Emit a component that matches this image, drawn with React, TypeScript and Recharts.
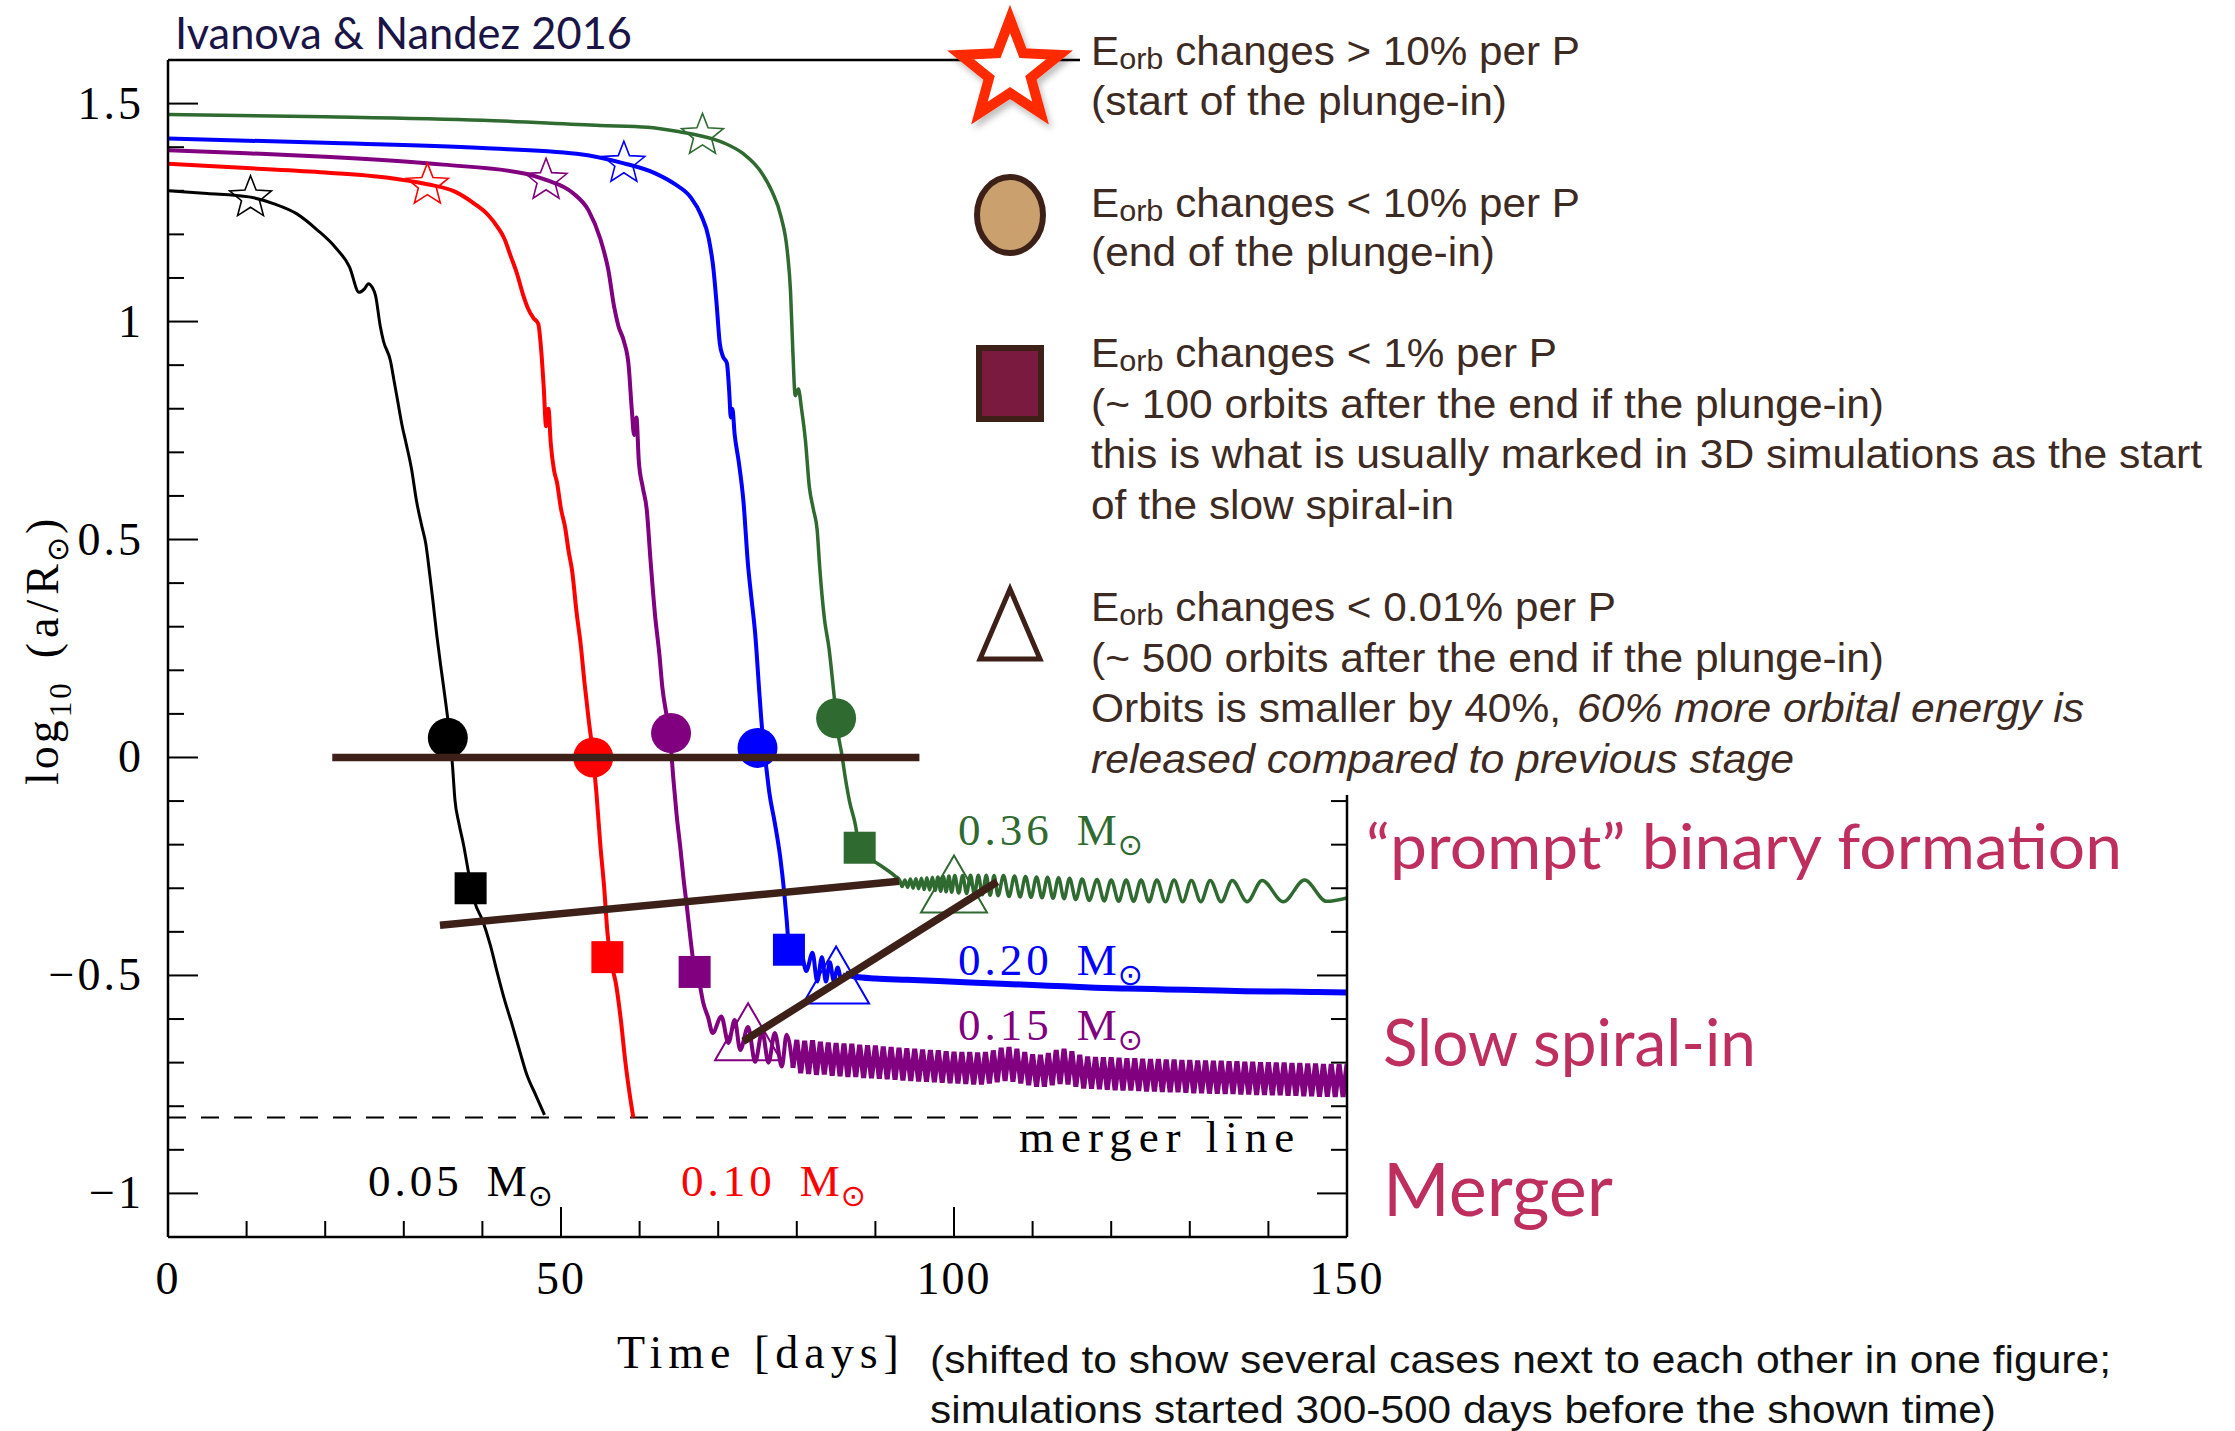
import React from "react";
import { ComposedChart, Line, Scatter, XAxis, YAxis, ReferenceLine } from "recharts";

type Pt = [number, number];
type Mark = { x: number; y: number; s: string };

const SERIF = '"Liberation Serif", "Times New Roman", serif';
const SANS = '"Liberation Sans", Arial, sans-serif';
const GILL = 'Lato, "Open Sans", sans-serif';
const BROWN = "#3d2a22";
const CRIMSON = "#bf2f5e";
const ANNOT = "#3d2119";

const COLORS: Record<string, string> = {
  m05: "#000000",
  m10: "#ff0000",
  m15: "#800080",
  m20: "#0000ff",
  m36: "#2f6a31",
};

const xTicks = [0, 10, 20, 30, 40, 50, 60, 70, 80, 90, 100, 110, 120, 130, 140, 150];
const yTicks = [
  -1, -0.9, -0.8, -0.7, -0.6, -0.5, -0.4, -0.3, -0.2, -0.1, 0, 0.1, 0.2, 0.3, 0.4,
  0.5, 0.6, 0.7, 0.8, 0.9, 1, 1.1, 1.2, 1.3, 1.4, 1.5,
];

// 0.05 Msun companion
const curve005: Pt[] = [
  [0, 1.3], [5, 1.294], [10.3, 1.286], [13.5, 1.27], [16.4, 1.247], [19, 1.21],
  [21.3, 1.17], [23.1, 1.125], [24.3, 1.067], [25.0, 1.075], [25.5, 1.087],
  [26.0, 1.078], [26.4, 1.06], [27.0, 0.99], [27.4, 0.956], [28.3, 0.91],
  [28.8, 0.86], [29.2, 0.82], [29.8, 0.76], [30.3, 0.72], [31.0, 0.66],
  [31.6, 0.59], [32.3, 0.53], [32.8, 0.49], [33.3, 0.42], [33.7, 0.36],
  [34.2, 0.28], [34.7, 0.21], [35.3, 0.13], [35.9, 0.04], [36.2, -0.02],
  [36.5, -0.096], [37.0, -0.15], [37.6, -0.2], [38.3, -0.27], [39.0, -0.33],
  [40.0, -0.373], [41.0, -0.43], [41.9, -0.494], [42.8, -0.555], [43.8, -0.614],
  [44.7, -0.67], [45.6, -0.725], [46.8, -0.775], [47.9, -0.82],
];

// 0.10 Msun
const curve010: Pt[] = [
  [0, 1.362], [10, 1.352], [20, 1.342], [28, 1.33], [33, 1.315], [36.5, 1.298],
  [39, 1.27], [40.7, 1.245], [42.0, 1.215], [42.8, 1.19], [43.6, 1.15],
  [44.4, 1.11], [45.2, 1.06], [45.8, 1.03], [46.5, 1.008], [47.1, 0.995],
  [47.5, 0.93], [47.8, 0.85], [48.1, 0.76], [48.4, 0.8], [48.7, 0.72],
  [49.1, 0.66], [49.5, 0.63], [50.0, 0.57], [50.5, 0.53], [51.0, 0.47],
  [51.4, 0.43], [52.0, 0.33], [52.5, 0.26], [53.0, 0.17], [53.5, 0.09],
  [54.1, 0.0], [54.5, -0.08], [55.0, -0.2], [55.5, -0.3], [55.9, -0.4],
  [56.4, -0.47], [57.0, -0.52], [57.6, -0.6], [58.2, -0.7], [58.8, -0.78],
  [59.2, -0.826],
];

// 0.15 Msun, plunge and first wobbles
const curve015: Pt[] = [
  [0, 1.393], [10, 1.386], [20, 1.378], [35, 1.36], [45.5, 1.339], [48.1, 1.325],
  [51.5, 1.295], [53.5, 1.255], [55.0, 1.19], [56.0, 1.12], [56.8, 1.03],
  [57.3, 0.99], [58.0, 0.955], [58.6, 0.9], [59.0, 0.8], [59.3, 0.74],
  [59.6, 0.78], [59.9, 0.68], [60.4, 0.62], [60.9, 0.57], [61.4, 0.45],
  [62.0, 0.32], [62.5, 0.24], [62.9, 0.16], [63.4, 0.1], [63.9, 0.04],
  [64.3, -0.05], [64.7, -0.13], [65.2, -0.21], [65.6, -0.28], [66.0, -0.34],
  [66.5, -0.42], [67.0, -0.49], [67.7, -0.526], [68.1, -0.563], [68.7, -0.595],
  [69.3, -0.632], [70.4, -0.594], [71.3, -0.655], [72.1, -0.602], [72.8, -0.671],
  [73.8, -0.618], [74.7, -0.698], [75.6, -0.629], [76.4, -0.7], [77.2, -0.632],
  [78.1, -0.709], [78.7, -0.636], [79.5, -0.712],
];

// 0.15 Msun, dense orbital oscillation (slow spiral-in)
const band015: Pt[] = [
  [79.5, -0.712], [80.0, -0.648], [80.5, -0.724], [81.0, -0.65], [81.5, -0.726],
  [82.0, -0.649], [82.5, -0.728], [83.0, -0.652], [83.5, -0.727], [84.0, -0.654],
  [84.5, -0.73], [85.0, -0.655], [85.5, -0.731], [86.0, -0.656], [86.5, -0.733],
  [87.0, -0.657], [87.5, -0.733], [88.0, -0.659], [88.5, -0.735], [89.0, -0.66],
  [89.5, -0.736], [90.0, -0.661], [90.5, -0.737], [91.0, -0.663], [91.5, -0.738],
  [92.0, -0.664], [92.5, -0.739], [93.0, -0.666], [93.5, -0.741], [94.0, -0.667],
  [94.5, -0.742], [95.0, -0.668], [95.5, -0.743], [96.0, -0.67], [96.5, -0.744],
  [97.0, -0.671], [97.5, -0.745], [98.0, -0.672], [98.5, -0.746], [99.0, -0.674],
  [99.5, -0.747], [100.0, -0.675], [100.5, -0.748], [101.0, -0.676], [101.5, -0.749],
  [102.0, -0.676], [102.5, -0.75], [103.0, -0.677], [103.5, -0.75], [104.0, -0.676],
  [104.5, -0.748], [105.0, -0.672], [105.5, -0.745], [106.0, -0.666], [106.5, -0.742],
  [107.0, -0.664], [107.5, -0.744], [108.0, -0.668], [108.5, -0.748], [109.0, -0.676],
  [109.5, -0.752], [110.0, -0.681], [110.5, -0.755], [111.0, -0.682], [111.5, -0.755],
  [112.0, -0.678], [112.5, -0.752], [113.0, -0.671], [113.5, -0.749], [114.0, -0.668],
  [114.5, -0.75], [115.0, -0.674], [115.5, -0.755], [116.0, -0.682], [116.5, -0.759],
  [117.0, -0.686], [117.5, -0.76], [118.0, -0.687], [118.5, -0.761], [119.0, -0.688],
  [119.5, -0.762], [120.0, -0.688], [120.5, -0.763], [121.0, -0.689], [121.5, -0.764],
  [122.0, -0.69], [122.5, -0.764], [123.0, -0.69], [123.5, -0.765], [124.0, -0.691],
  [124.5, -0.766], [125.0, -0.692], [125.5, -0.766], [126.0, -0.692], [126.5, -0.767],
  [127.0, -0.693], [127.5, -0.768], [128.0, -0.693], [128.5, -0.768], [129.0, -0.694],
  [129.5, -0.769], [130.0, -0.694], [130.5, -0.77], [131.0, -0.695], [131.5, -0.77],
  [132.0, -0.695], [132.5, -0.771], [133.0, -0.696], [133.5, -0.771], [134.0, -0.696],
  [134.5, -0.772], [135.0, -0.697], [135.5, -0.772], [136.0, -0.697], [136.5, -0.773],
  [137.0, -0.698], [137.5, -0.773], [138.0, -0.698], [138.5, -0.774], [139.0, -0.699],
  [139.5, -0.774], [140.0, -0.699], [140.5, -0.775], [141.0, -0.7], [141.5, -0.775],
  [142.0, -0.7], [142.5, -0.776], [143.0, -0.701], [143.5, -0.776], [144.0, -0.701],
  [144.5, -0.777], [145.0, -0.702], [145.5, -0.777], [146.0, -0.702], [146.5, -0.778],
  [147.0, -0.703], [147.5, -0.778], [148.0, -0.703], [148.5, -0.779], [149.0, -0.704],
  [149.5, -0.779], [150.0, -0.704],
];

// 0.20 Msun
const curve020: Pt[] = [
  [0, 1.42], [20, 1.41], [40, 1.398], [52, 1.385], [58, 1.363], [62, 1.34],
  [64.5, 1.315], [66.5, 1.285], [67.8, 1.245], [68.8, 1.19], [69.4, 1.12],
  [69.8, 1.04], [70.2, 0.95], [70.6, 0.92], [71.1, 0.905], [71.4, 0.84],
  [71.6, 0.78], [71.8, 0.8], [72.1, 0.74], [72.6, 0.68], [73.2, 0.59],
  [73.8, 0.44], [74.2, 0.37], [74.7, 0.285], [75.3, 0.132], [75.7, 0.04],
  [76.1, -0.02], [76.5, -0.08], [77.2, -0.15], [77.9, -0.23], [78.4, -0.31],
  [78.7, -0.37], [79.0, -0.43], [80.0, -0.445], [80.6, -0.45], [81.2, -0.49],
  [82.0, -0.448], [82.6, -0.514], [83.2, -0.458], [83.7, -0.514], [84.2, -0.47],
  [84.7, -0.512], [85.2, -0.482], [85.7, -0.512], [86.2, -0.495],
];
const tail020: Pt[] = [
  [86.2, -0.495], [87.5, -0.503], [90, -0.507], [94, -0.51], [98, -0.513],
  [102, -0.516], [106, -0.519], [110, -0.522], [114, -0.525], [118, -0.528],
  [122, -0.53], [127, -0.532], [132, -0.534], [137, -0.536], [142, -0.537],
  [146, -0.538], [150, -0.539],
];

// 0.36 Msun
const curve036: Pt[] = [
  [0, 1.475], [20, 1.47], [40, 1.462], [55, 1.45], [61, 1.446], [65.2, 1.435],
  [68, 1.425], [70.7, 1.41], [73.2, 1.385], [75.3, 1.347], [76.8, 1.3],
  [78.0, 1.24], [78.8, 1.16], [79.2, 1.07], [79.5, 0.93], [79.8, 0.83],
  [80.2, 0.845], [80.6, 0.8], [81.1, 0.727], [81.6, 0.62], [82.1, 0.57],
  [82.6, 0.52], [82.9, 0.44], [83.5, 0.32], [84.1, 0.25], [84.7, 0.15],
  [85.2, 0.06], [85.7, 0.01], [86.2, -0.05], [86.7, -0.1], [87.4, -0.15],
  [88.0, -0.207], [89.0, -0.228], [90.0, -0.24], [91.4, -0.257], [92.5, -0.272],
  [93.1, -0.282], [93.4, -0.296], [93.75, -0.281], [94.1, -0.298], [94.45, -0.279],
  [94.8, -0.3], [95.15, -0.278], [95.5, -0.301], [95.85, -0.277], [96.2, -0.303],
  [96.55, -0.276], [96.9, -0.304], [97.25, -0.275], [97.6, -0.305], [97.95, -0.274],
  [98.3, -0.307], [98.65, -0.273], [99.0, -0.308], [99.35, -0.272], [99.7, -0.309],
  [100.1, -0.271], [100.6, -0.311], [101.1, -0.271], [101.6, -0.312], [102.1, -0.27],
  [102.6, -0.314], [103.1, -0.27], [103.6, -0.315], [104.1, -0.27], [104.6, -0.316],
  [105.1, -0.271], [105.6, -0.317], [106.3, -0.271], [107.0, -0.319], [107.7, -0.272],
  [108.4, -0.32], [109.1, -0.273], [109.8, -0.321], [110.5, -0.274], [111.2, -0.322],
  [111.9, -0.275], [112.6, -0.323], [113.3, -0.276], [114.0, -0.324], [114.7, -0.277],
  [115.5, -0.326], [116.3, -0.279], [117.2, -0.328], [118.2, -0.28], [119.1, -0.329],
  [120.0, -0.281], [120.95, -0.33], [121.9, -0.281], [122.85, -0.33], [123.8, -0.281],
  [124.8, -0.331], [125.8, -0.281], [126.9, -0.331], [128.0, -0.281], [129.1, -0.331],
  [130.2, -0.282], [131.4, -0.331], [132.6, -0.282], [134.0, -0.331], [135.4, -0.282],
  [137.3, -0.331], [139.2, -0.282], [141.9, -0.331], [144.6, -0.281], [147.4, -0.33],
  [150.0, -0.322],
];

// markers: start of plunge, end of plunge, <1%/P, <0.01%/P
const startMarks: Mark[] = [
  { x: 10.5, y: 1.284, s: "m05" }, { x: 33.0, y: 1.313, s: "m10" },
  { x: 48.1, y: 1.324, s: "m15" }, { x: 58.0, y: 1.363, s: "m20" },
  { x: 68.0, y: 1.427, s: "m36" },
];
const endMarks: Mark[] = [
  { x: 35.6, y: 0.045, s: "m05" }, { x: 54.1, y: 0.0, s: "m10" },
  { x: 64.0, y: 0.056, s: "m15" }, { x: 75.0, y: 0.022, s: "m20" },
  { x: 85.0, y: 0.09, s: "m36" },
];
const slowMarks: Mark[] = [
  { x: 38.5, y: -0.3, s: "m05" }, { x: 55.9, y: -0.458, s: "m10" },
  { x: 67.0, y: -0.492, s: "m15" }, { x: 79.0, y: -0.441, s: "m20" },
  { x: 88.0, y: -0.207, s: "m36" },
];
const settledMarks: Mark[] = [
  { x: 73.8, y: -0.629, s: "m15" }, { x: 85.0, y: -0.499, s: "m20" },
  { x: 100.0, y: -0.29, s: "m36" },
];

// hand-drawn annotation strokes
const plungeEndLine: Pt[] = [[20.9, 0], [95.6, 0]];
const promptLine: Pt[] = [[34.6, -0.385], [93.0, -0.284]];
const spiralLine: Pt[] = [[73.2, -0.651], [105.5, -0.285]];
const mergerY = -0.826;

const toXY = (pts: Pt[]) => pts.map(([x, y]) => ({ x, y }));

const isMajorX = (v: number) => v % 50 === 0;
const isMajorY = (v: number) => Math.abs(v * 2 - Math.round(v * 2)) < 1e-6;
const fmtY = (v: number) => String(Math.round(v * 10) / 10).replace("-", "\u2212");

function BottomTick(props: any) {
  const { x, y, payload } = props;
  const major = isMajorX(payload.value);
  return (
    <g>
      <line x1={x} x2={x} y1={y} y2={y - (major ? 30 : 16)} stroke="#000" strokeWidth={2} />
      {major && (
        <text x={x} y={y + 57} textAnchor="middle" fontFamily={SERIF} fontSize={46} letterSpacing={2} fill="#000">
          {payload.value}
        </text>
      )}
    </g>
  );
}

function TopTick(props: any) {
  const { x, y, payload } = props;
  const major = isMajorX(payload.value);
  return <line x1={x} x2={x} y1={y} y2={y + (major ? 30 : 16)} stroke="#000" strokeWidth={2} />;
}

function LeftTick(props: any) {
  const { x, y, payload } = props;
  const major = isMajorY(payload.value);
  return (
    <g>
      <line x1={x} x2={x + (major ? 30 : 16)} y1={y} y2={y} stroke="#000" strokeWidth={2} />
      {major && (
        <text x={x - 24} y={y + 15} textAnchor="end" fontFamily={SERIF} fontSize={46} letterSpacing={3} fill="#000">
          {fmtY(payload.value)}
        </text>
      )}
    </g>
  );
}

function RightTick(props: any) {
  const { x, y, payload } = props;
  const major = isMajorY(payload.value);
  return <line x1={x} x2={x - (major ? 30 : 16)} y1={y} y2={y} stroke="#000" strokeWidth={2} />;
}

function starPoints(cx: number, cy: number, R: number, r: number) {
  const pts: string[] = [];
  for (let i = 0; i < 10; i++) {
    const a = -Math.PI / 2 + (i * Math.PI) / 5;
    const rad = i % 2 === 0 ? R : r;
    pts.push(`${cx + rad * Math.cos(a)},${cy + rad * Math.sin(a)}`);
  }
  return pts.join(" ");
}

const StarShape = (p: any) => (
  <polygon points={starPoints(p.cx, p.cy, 22, 9.5)} fill="none" stroke={COLORS[p.payload.s]} strokeWidth={1.6} />
);
const CircleShape = (p: any) => <circle cx={p.cx} cy={p.cy} r={20} fill={COLORS[p.payload.s]} />;
const SquareShape = (p: any) => (
  <rect x={p.cx - 16} y={p.cy - 16} width={32} height={32} fill={COLORS[p.payload.s]} />
);
const TriangleShape = (p: any) => (
  <polygon
    points={`${p.cx},${p.cy - 28.5} ${p.cx - 33},${p.cy + 28.5} ${p.cx + 33},${p.cy + 28.5}`}
    fill="none"
    stroke={COLORS[p.payload.s]}
    strokeWidth={2}
  />
);
const NoShape = () => <g />;

function MassLabel({ x, y, mass, color }: { x: number; y: number; mass: string; color: string }) {
  return (
    <text x={x} y={y} fill={color} fontFamily={SERIF} fontSize={45} letterSpacing={4}>
      {mass}
      <tspan dx={24}>M</tspan>
      <tspan fontFamily="DejaVu Sans" fontSize={30} dy={10} dx={-3}>
        ⊙
      </tspan>
    </text>
  );
}

function Eorb({ y, rest, w }: { y: number; rest: string; w: number }) {
  return (
    <text x={1091} y={y} fill={BROWN} fontFamily={SANS} fontSize={40} textLength={w} lengthAdjust="spacingAndGlyphs">
      E
      <tspan fontSize={29} dy={4}>
        orb
      </tspan>
      <tspan dy={-4}>{" " + rest}</tspan>
    </text>
  );
}

function Plain({ x = 1091, y, w, italic = false, children }: any) {
  return (
    <text
      x={x}
      y={y}
      fill={BROWN}
      fontFamily={SANS}
      fontSize={40}
      fontStyle={italic ? "italic" : "normal"}
      textLength={w}
      lengthAdjust="spacingAndGlyphs"
    >
      {children}
    </text>
  );
}

const AXIS = { stroke: "#000", strokeWidth: 2.5 };
const STROKE = { stroke: ANNOT, strokeWidth: 7.5 };

export default function App() {
  return (
    <div style={{ position: "absolute", left: 0, top: 0, width: 2235, height: 1431, background: "#fff" }}>
      <ComposedChart width={2235} height={1431} margin={{ top: 59, right: 887, bottom: 193, left: 167 }}>
        <XAxis
          dataKey="x"
          type="number"
          domain={[0, 150]}
          ticks={xTicks}
          interval={0}
          height={1}
          tickSize={0}
          tickMargin={0}
          tickLine={false}
          axisLine={AXIS}
          tick={BottomTick}
          allowDataOverflow
        />
        <XAxis
          xAxisId="t"
          orientation="top"
          type="number"
          domain={[0, 150]}
          ticks={xTicks}
          interval={0}
          height={1}
          tickSize={0}
          tickMargin={0}
          tickLine={false}
          axisLine={AXIS}
          tick={TopTick}
          allowDataOverflow
        />
        <YAxis
          dataKey="y"
          type="number"
          domain={[-1.1, 1.6]}
          ticks={yTicks}
          interval={0}
          width={1}
          tickSize={0}
          tickMargin={0}
          tickLine={false}
          axisLine={AXIS}
          tick={LeftTick}
          allowDataOverflow
        />
        <YAxis
          yAxisId="r"
          orientation="right"
          type="number"
          domain={[-1.1, 1.6]}
          ticks={yTicks}
          interval={0}
          width={1}
          tickSize={0}
          tickMargin={0}
          tickLine={false}
          axisLine={AXIS}
          tick={RightTick}
          allowDataOverflow
        />

        <ReferenceLine y={mergerY} stroke="#000" strokeWidth={2} strokeDasharray="18 15" />

        <Line data={toXY(curve005)} dataKey="y" type="monotone" stroke={COLORS.m05} strokeWidth={3} dot={false} isAnimationActive={false} />
        <Line data={toXY(curve010)} dataKey="y" type="monotone" stroke={COLORS.m10} strokeWidth={4} dot={false} isAnimationActive={false} />
        <Line data={toXY(curve015)} dataKey="y" type="monotone" stroke={COLORS.m15} strokeWidth={4} dot={false} isAnimationActive={false} />
        <Line data={toXY(band015)} dataKey="y" type="linear" stroke={COLORS.m15} strokeWidth={5} dot={false} isAnimationActive={false} />
        <Line data={toXY(curve020)} dataKey="y" type="monotone" stroke={COLORS.m20} strokeWidth={4} dot={false} isAnimationActive={false} />
        <Line data={toXY(tail020)} dataKey="y" type="monotone" stroke={COLORS.m20} strokeWidth={6} dot={false} isAnimationActive={false} />
        <Line data={toXY(curve036)} dataKey="y" type="monotone" stroke={COLORS.m36} strokeWidth={3.5} dot={false} isAnimationActive={false} />

        <Scatter data={startMarks} shape={StarShape} isAnimationActive={false} />
        <Scatter data={endMarks} shape={CircleShape} isAnimationActive={false} />
        <Scatter data={slowMarks} shape={SquareShape} isAnimationActive={false} />
        <Scatter data={settledMarks} shape={TriangleShape} isAnimationActive={false} />

        {/* annotation strokes drawn last so they sit over the markers */}
        <Scatter data={toXY(plungeEndLine)} line={STROKE} shape={NoShape} isAnimationActive={false} />
        <Scatter data={toXY(promptLine)} line={STROKE} shape={NoShape} isAnimationActive={false} />
        <Scatter data={toXY(spiralLine)} line={STROKE} shape={NoShape} isAnimationActive={false} />
      </ComposedChart>

      <svg width={2235} height={1431} style={{ position: "absolute", left: 0, top: 0, pointerEvents: "none" }}>
        <defs>
          <filter id="soft" x="-30%" y="-30%" width="160%" height="160%">
            <feDropShadow dx="3" dy="5" stdDeviation="3" floodColor="#000" floodOpacity="0.25" />
          </filter>
        </defs>

        {/* title */}
        <text x={175} y={49} fill="#1b1547" fontFamily={GILL} fontSize={44} textLength={457} lengthAdjust="spacingAndGlyphs">
          Ivanova &amp; Nandez 2016
        </text>

        {/* legend panel hides the upper right of the frame */}
        <rect x={1080} y={0} width={1155} height={795} fill="#fff" />

        <polygon points={starPoints(1010, 71, 52, 22)} fill="#fff" stroke="#ff2a00" strokeWidth={10} filter="url(#soft)" />
        <ellipse cx={1010} cy={215} rx={33} ry={38} fill="#c9a06e" stroke={ANNOT} strokeWidth={6} />
        <rect x={979} y={348} width={62} height={71} fill="#7a1a3e" stroke={ANNOT} strokeWidth={6} />
        <polygon points="1010,589 980,659 1040,659" fill="#fff" stroke={ANNOT} strokeWidth={5} />

        <Eorb y={65} rest="changes > 10% per P" w={489} />
        <Plain y={115} w={416}>(start of the plunge-in)</Plain>
        <Eorb y={217} rest="changes < 10% per P" w={489} />
        <Plain y={266} w={404}>(end of the plunge-in)</Plain>
        <Eorb y={367} rest="changes < 1% per P" w={466} />
        <Plain y={418} w={793}>(~ 100 orbits after the end if the plunge-in)</Plain>
        <Plain y={468} w={1111}>this is what is usually marked in 3D simulations as the start</Plain>
        <Plain y={519} w={363}>of the slow spiral-in</Plain>
        <Eorb y={621} rest="changes < 0.01% per P" w={525} />
        <Plain y={672} w={793}>(~ 500 orbits after the end if the plunge-in)</Plain>
        <Plain y={722} w={470}>Orbits is smaller by 40%,</Plain>
        <Plain x={1577} y={722} w={507} italic>
          60% more orbital energy is
        </Plain>
        <Plain y={773} w={703} italic>
          released compared to previous stage
        </Plain>

        {/* stage labels */}
        <text x={1366} y={869} fill={CRIMSON} fontFamily={GILL} fontSize={62} textLength={756} lengthAdjust="spacingAndGlyphs">
          “prompt” binary formation
        </text>
        <text x={1383} y={1066} fill={CRIMSON} fontFamily={GILL} fontSize={66} textLength={373} lengthAdjust="spacingAndGlyphs">
          Slow spiral-in
        </text>
        <text x={1383} y={1216} fill={CRIMSON} fontFamily={GILL} fontSize={74} textLength={230} lengthAdjust="spacingAndGlyphs">
          Merger
        </text>

        {/* companion masses */}
        <MassLabel x={958} y={845} mass="0.36" color={COLORS.m36} />
        <MassLabel x={958} y={975} mass="0.20" color={COLORS.m20} />
        <MassLabel x={958} y={1040} mass="0.15" color={COLORS.m15} />
        <MassLabel x={368} y={1196} mass="0.05" color={COLORS.m05} />
        <MassLabel x={681} y={1196} mass="0.10" color={COLORS.m10} />
        <text x={1019} y={1152} fill="#000" fontFamily={SERIF} fontSize={45} letterSpacing={7}>
          merger line
        </text>

        {/* axis titles */}
        <text transform="translate(58 785) rotate(-90)" fill="#000" fontFamily={SERIF} fontSize={46} letterSpacing={3}>
          log
          <tspan fontSize={31} dy={13}>
            10
          </tspan>
          <tspan dy={-13} dx={22} letterSpacing={5}>
            (a/R
          </tspan>
          <tspan fontFamily="DejaVu Sans" fontSize={30} dy={10} dx={-3}>
            ⊙
          </tspan>
          <tspan dy={-10}>)</tspan>
        </text>
        <text x={617} y={1368} fill="#000" fontFamily={SERIF} fontSize={46} letterSpacing={6}>
          Time [days]
        </text>
        <text x={930} y={1373} fill="#111" fontFamily={SANS} fontSize={39} textLength={1181} lengthAdjust="spacingAndGlyphs">
          (shifted to show several cases next to each other in one figure;
        </text>
        <text x={930} y={1423} fill="#111" fontFamily={SANS} fontSize={39} textLength={1066} lengthAdjust="spacingAndGlyphs">
          simulations started 300-500 days before the shown time)
        </text>
      </svg>
    </div>
  );
}
